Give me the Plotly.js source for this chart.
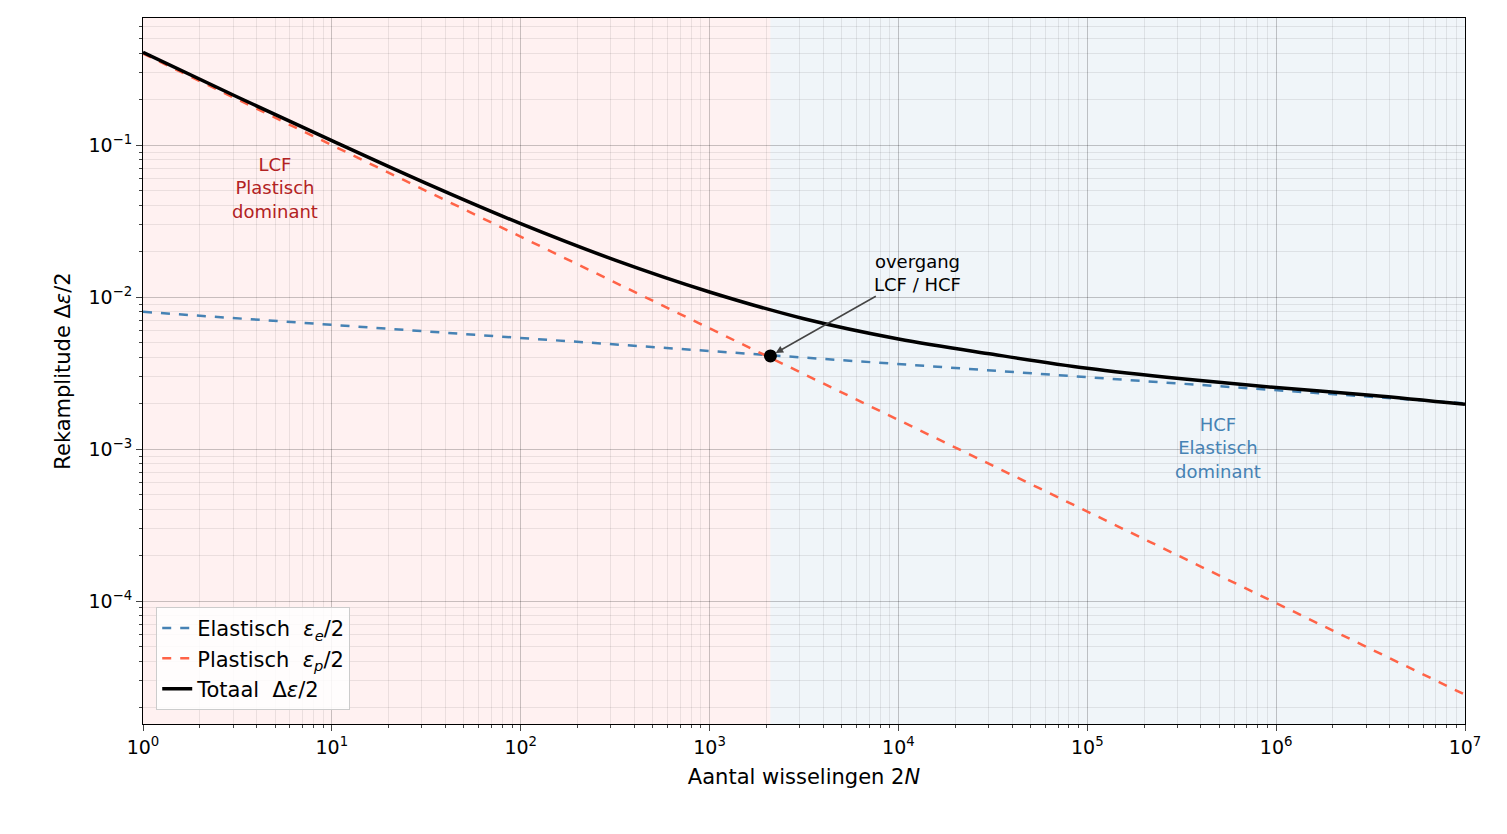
<html><head><script src="https://cdn.plot.ly/plotly-3.0.1.min.js"></script>
<style>body{margin:0}</style></head><body><div id="c" style="width:1507px;height:834px"></div><script>
const xElastic=[1,1e7];
const yElastic=[0.008,0.00200];
const xPlastic=[1,1e7];
const yPlastic=[0.4,0.0000242];
const xTotal=[1,3.16,10,31.6,100,316,1000,3162,1e4,31623,1e5,316228,1e6,3162278,1e7];
const yTotal=[0.408,0.207,0.107,0.056,0.0304,0.0175,0.0108,0.0072,0.0053,0.0042,0.0034,0.0029,0.00254,0.00226,0.00197];
const xTrans=[2100];
const yTrans=[0.0041];
const xTickVals=[1,10,100,1e3,1e4,1e5,1e6,1e7];
const xTickText=['10<sup>0</sup>','10<sup>1</sup>','10<sup>2</sup>','10<sup>3</sup>','10<sup>4</sup>','10<sup>5</sup>','10<sup>6</sup>','10<sup>7</sup>'];
const yTickVals=[1e-4,1e-3,1e-2,1e-1];
const yTickText=['10<sup>−4</sup>','10<sup>−3</sup>','10<sup>−2</sup>','10<sup>−1</sup>'];
const F='DejaVu Sans, sans-serif';
const traces=[
{x:xElastic,y:yElastic,mode:'lines',name:'Elastisch  <i>ε<sub>e</sub></i>/2',line:{color:'#4682b4',width:2.5,dash:'dash'}},
{x:xPlastic,y:yPlastic,mode:'lines',name:'Plastisch  <i>ε<sub>p</sub></i>/2',line:{color:'#ff6347',width:2.5,dash:'dash'}},
{x:xTotal,y:yTotal,mode:'lines',name:'Totaal  Δ<i>ε</i>/2',line:{color:'black',width:3.5,shape:'spline'}},
{x:xTrans,y:yTrans,mode:'markers',showlegend:false,marker:{color:'black',size:13}}
];
const ax={type:'log',showline:true,mirror:true,linecolor:'black',ticks:'outside',ticklen:6,
 gridcolor:'rgba(0,0,0,0.15)',minor:{dtick:'D1',showgrid:true,gridcolor:'rgba(0,0,0,0.08)',ticks:'outside',ticklen:3},zeroline:false,tickfont:{size:19}};
const layout={font:{family:F,size:18,color:'black'},paper_bgcolor:'white',plot_bgcolor:'white',
 margin:{l:143,r:42,t:18,b:110},showlegend:true,
 legend:{x:0.01,y:0.02,xanchor:'left',yanchor:'bottom',bgcolor:'rgba(255,255,255,0.85)',bordercolor:'#ccc',borderwidth:1,font:{size:21},tracegroupgap:4},
 xaxis:Object.assign({},ax,{range:[0,7],tickvals:xTickVals,ticktext:xTickText,title:{text:'Aantal wisselingen 2<i>N</i>',font:{size:21},standoff:12}}),
 yaxis:Object.assign({},ax,{range:[-4.809,-0.164],tickvals:yTickVals,ticktext:yTickText,title:{text:'Rekamplitude Δ<i>ε</i>/2',font:{size:21},standoff:12}}),
 shapes:[
 {type:'rect',xref:'x',yref:'paper',x0:1,x1:2100,y0:0,y1:1,fillcolor:'rgba(255,150,150,0.13)',line:{width:0},layer:'below'},
 {type:'rect',xref:'x',yref:'paper',x0:2100,x1:1e7,y0:0,y1:1,fillcolor:'rgba(120,160,200,0.11)',line:{width:0},layer:'below'}],
 annotations:[
 {x:0.699,y:-1.283,xref:'x',yref:'y',text:'LCF<br>Plastisch<br>dominant',showarrow:false,font:{color:'#b22222',size:18}},
 {x:5.69,y:-2.99,xref:'x',yref:'y',text:'HCF<br>Elastisch<br>dominant',showarrow:false,font:{color:'#4682b4',size:18}},
 {x:Math.log10(2100),y:Math.log10(0.0041),xref:'x',yref:'y',ax:4.10,ay:-1.84,axref:'x',ayref:'y',text:'overgang<br>LCF / HCF',showarrow:true,arrowhead:2,arrowsize:1,arrowwidth:1.5,standoff:6,font:{size:18}}
 ]};
Plotly.newPlot('c',traces,layout,{displayModeBar:false});
</script></body></html>
